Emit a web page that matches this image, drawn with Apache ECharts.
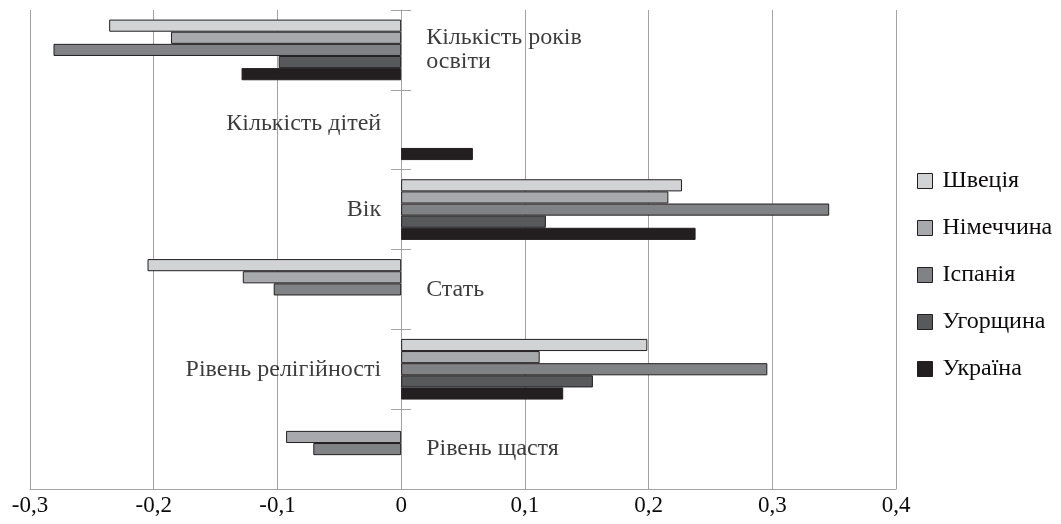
<!DOCTYPE html>
<html>
<head>
<meta charset="utf-8">
<script src="https://cdn.jsdelivr.net/npm/echarts@6/dist/echarts.min.js"></script>
<style>html,body{margin:0;padding:0;background:#fff;}#c{width:1061px;height:524px;}</style>
</head>
<body>
<div id="c"></div>
<script>
const categories = ['Кількість років\nосвіти', 'Кількість дітей', 'Вік', 'Стать', 'Рівень релігійності', 'Рівень щастя'];
const seriesNames = ['Швеція', 'Німеччина', 'Іспанія', 'Угорщина', 'Україна'];
const sweden  = [-0.236, null, 0.227, -0.205, 0.199, null];
const germany = [-0.186, null, 0.216, -0.128, 0.112, -0.093];
const spain   = [-0.281, null, 0.346, -0.103, 0.296, -0.071];
const hungary = [-0.099, null, 0.117, null, 0.155, null];
const ukraine = [-0.129, 0.058, 0.238, null, 0.131, null];
const xTickLabels = ['-0,3', '-0,2', '-0,1', '0', '0,1', '0,2', '0,3', '0,4'];

const seriesValues = [sweden, germany, spain, hungary, ukraine];
const colors = ['#d1d3d4', '#a7a9ac', '#808285', '#58595b', '#231f20'];
const labelSide = ['right', 'left', 'left', 'right', 'left', 'right'];
const FONT = "'Liberation Serif', 'Times New Roman', serif";
const TEXT = '#0d0b0c';
const GRID = '#a3a3a3';

const chart = echarts.init(document.getElementById('c'), null, {renderer: 'canvas'});

const barSeries = seriesNames.map((name, i) => ({
  name: name,
  type: 'bar',
  xAxisIndex: 0,
  yAxisIndex: 0,
  data: seriesValues[i],
  barGap: '0%',
  barCategoryGap: '24%',
  itemStyle: { color: colors[i], borderColor: '#231f20', borderWidth: 1 },
  emphasis: { disabled: true },
  animation: false
}));

const labelSeries = {
  type: 'scatter',
  xAxisIndex: 0,
  yAxisIndex: 0,
  symbolSize: 0,
  silent: true,
  animation: false,
  data: categories.map((c, i) => ({
    value: [0, i],
    label: {
      show: true,
      position: labelSide[i],
      distance: labelSide[i] === 'right' ? 25 : 20,
      offset: i === 1 ? [0, -6] : [0, 0],
      formatter: () => categories[i],
      fontFamily: FONT,
      fontSize: 24,
      lineHeight: 24,
      color: TEXT
    }
  }))
};

const xBase = {
  type: 'value',
  min: -0.3,
  max: 0.4,
  interval: 0.1
};

chart.setOption({
  animation: false,
  backgroundColor: '#ffffff',
  grid: { left: 30, right: 165, top: 10, bottom: 35, containLabel: false },
  legend: {
    data: seriesNames,
    orient: 'vertical',
    left: 912,
    top: 164,
    itemWidth: 15,
    itemHeight: 15,
    itemGap: 23,
    icon: 'rect',
    itemStyle: { borderColor: '#231f20', borderWidth: 1 },
    textStyle: { fontFamily: FONT, fontSize: 24, lineHeight: 24, color: TEXT, padding: [0, 0, 0, 5] },
    selectedMode: false
  },
  xAxis: [
    Object.assign({}, xBase, {
      position: 'bottom',
      axisLine: { show: true, onZero: false, lineStyle: { color: GRID, width: 1 } },
      axisTick: { show: false },
      splitLine: { show: true, lineStyle: { color: GRID, width: 1 } },
      axisLabel: {
        fontFamily: FONT, fontSize: 23, color: TEXT, margin: 5,
        formatter: (v, idx) => xTickLabels[idx]
      }
    }),
    Object.assign({}, xBase, {
      position: 'top',
      show: false,
      axisLine: { show: false, onZero: false },
      axisTick: { show: false },
      splitLine: { show: false },
      axisLabel: { show: false }
    })
  ],
  yAxis: [
    {
      type: 'category',
      data: categories,
      inverse: true,
      position: 'left',
      axisLine: { show: true, onZero: true, onZeroAxisIndex: 0, lineStyle: { color: GRID, width: 1 } },
      axisTick: { show: true, length: 10, lineStyle: { color: GRID, width: 1 } },
      axisLabel: { show: false },
      splitLine: { show: false }
    },
    {
      type: 'category',
      data: categories,
      inverse: true,
      position: 'right',
      axisLine: { show: false, onZero: true, onZeroAxisIndex: 1 },
      axisTick: { show: true, length: 10, lineStyle: { color: GRID, width: 1 } },
      axisLabel: { show: false },
      splitLine: { show: false }
    }
  ],
  series: barSeries.concat([labelSeries])
});
</script>
</body>
</html>
